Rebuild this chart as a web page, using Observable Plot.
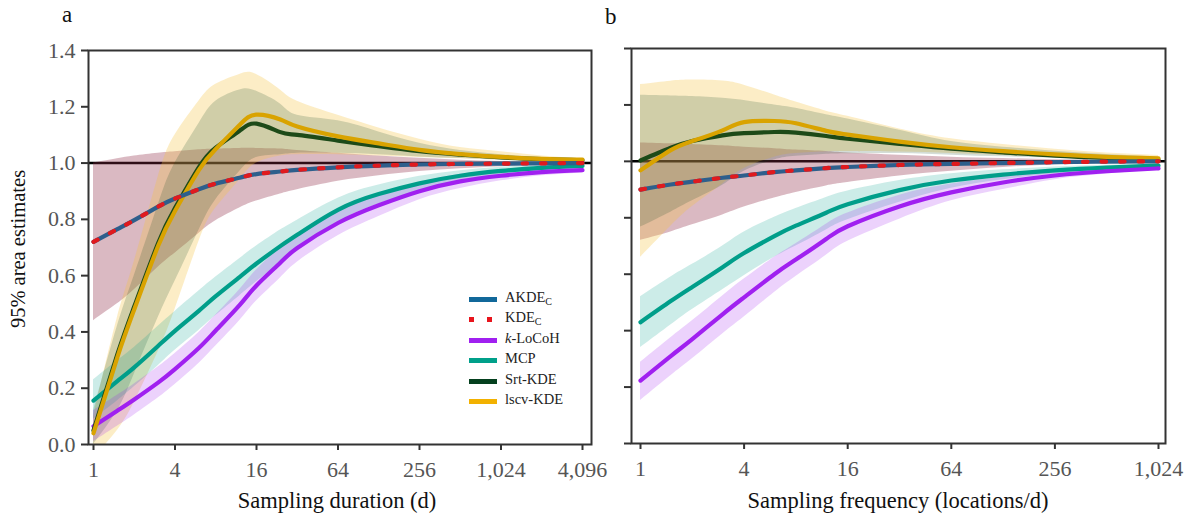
<!DOCTYPE html>
<html><head><meta charset="utf-8">
<script src="https://cdn.jsdelivr.net/npm/d3@7"></script>
<script src="https://cdn.jsdelivr.net/npm/@observablehq/plot@0.6"></script>
<style>
body{margin:0;background:#fff;}
#wrap{position:relative;width:1187px;height:516px;color:#111;overflow:hidden}
#wrap, #wrap *{font-family:"Liberation Serif","Times New Roman",serif;}
.abs{position:absolute;white-space:nowrap;line-height:1}
.leg{position:absolute;left:469px;font-size:14.5px;color:#222}
.sw{position:absolute;left:0;width:28px;height:5px}
.lt{position:absolute;left:36px;top:-8px;white-space:nowrap;font-size:14.5px}
.lt sub{font-size:10px;vertical-align:-3px;line-height:0}
</style></head><body>
<div id="wrap">
  <div id="pa" class="abs" style="left:0;top:0"></div>
  <div id="pb" class="abs" style="left:600px;top:0"></div>
  <div class="abs" style="left:62px;top:3px;font-size:23px">a</div>
  <div class="abs" style="left:605px;top:5px;font-size:23px">b</div>
  <div class="abs" style="left:18px;top:249px;font-size:20.5px;transform:translate(-50%,-50%) rotate(-90deg)">95% area estimates</div>
  <div class="abs" style="left:337px;top:490px;font-size:22.5px;transform:translateX(-50%)">Sampling duration (d)</div>
  <div class="abs" style="left:898px;top:490px;font-size:22.5px;transform:translateX(-50%)">Sampling frequency (locations/d)</div>
  <div id="legend"></div>
</div>
<script>
// ---------- Panel a: sampling duration (d) ----------
const durA = [1, 1.5, 2, 3, 4, 6, 8, 12, 16, 24, 32, 64, 128, 256, 512, 1024, 2048, 4096];
const akdeA   = [0.72, 0.765, 0.797, 0.845, 0.874, 0.907, 0.927, 0.948, 0.961, 0.970, 0.976, 0.985, 0.991, 0.995, 0.997, 0.998, 0.999, 1.0];
const akdeALo = [0.44, 0.50, 0.55, 0.63, 0.68, 0.75, 0.795, 0.84, 0.865, 0.89, 0.905, 0.935, 0.955, 0.97, 0.98, 0.987, 0.993, 0.996];
const akdeAHi = [1.0, 1.015, 1.025, 1.035, 1.04, 1.047, 1.05, 1.052, 1.052, 1.05, 1.045, 1.035, 1.025, 1.017, 1.01, 1.006, 1.003, 1.002];
const srtA    = [0.05, 0.32, 0.49, 0.715, 0.84, 0.985, 1.055, 1.115, 1.14, 1.11, 1.10, 1.08, 1.06, 1.042, 1.03, 1.02, 1.014, 1.01];
const srtALo  = [0.0, 0.12, 0.25, 0.45, 0.58, 0.76, 0.87, 0.97, 1.02, 1.03, 1.035, 1.035, 1.03, 1.022, 1.016, 1.011, 1.008, 1.005];
const srtAHi  = [0.12, 0.42, 0.60, 0.85, 1.0, 1.14, 1.22, 1.26, 1.255, 1.21, 1.17, 1.15, 1.11, 1.07, 1.045, 1.03, 1.02, 1.012];
const lscvA   = [0.04, 0.31, 0.48, 0.705, 0.83, 0.975, 1.05, 1.135, 1.172, 1.155, 1.13, 1.095, 1.07, 1.047, 1.032, 1.022, 1.015, 1.012];
const lscvALo = [-0.05, 0.05, 0.15, 0.33, 0.48, 0.72, 0.84, 0.94, 1.0, 1.025, 1.03, 1.03, 1.025, 1.02, 1.015, 1.01, 1.007, 1.005];
const lscvAHi = [0.1, 0.45, 0.65, 0.95, 1.1, 1.22, 1.28, 1.315, 1.315, 1.26, 1.22, 1.17, 1.125, 1.085, 1.055, 1.04, 1.025, 1.015];
const mcpA    = [0.156, 0.225, 0.274, 0.35, 0.404, 0.475, 0.527, 0.595, 0.643, 0.705, 0.745, 0.834, 0.89, 0.928, 0.955, 0.972, 0.983, 0.99];
const mcpALo  = [0.09, 0.155, 0.205, 0.28, 0.335, 0.405, 0.458, 0.528, 0.578, 0.645, 0.69, 0.79, 0.855, 0.90, 0.935, 0.958, 0.973, 0.983];
const mcpAHi  = [0.23, 0.298, 0.345, 0.42, 0.473, 0.545, 0.595, 0.66, 0.705, 0.762, 0.797, 0.875, 0.922, 0.953, 0.973, 0.985, 0.992, 0.997];
const lkA     = [0.065, 0.12, 0.16, 0.22, 0.268, 0.343, 0.405, 0.495, 0.565, 0.646, 0.698, 0.787, 0.85, 0.90, 0.935, 0.955, 0.968, 0.975];
const lkALo   = [0.01, 0.065, 0.105, 0.165, 0.213, 0.288, 0.35, 0.44, 0.51, 0.592, 0.648, 0.742, 0.81, 0.87, 0.91, 0.937, 0.955, 0.965];
const lkAHi   = [0.12, 0.175, 0.215, 0.275, 0.323, 0.398, 0.46, 0.55, 0.62, 0.70, 0.748, 0.832, 0.89, 0.93, 0.96, 0.973, 0.98, 0.985];

// ---------- Panel b: sampling frequency (locations/d) ----------
const freqB = [1, 1.5, 2, 3, 4, 6, 8, 12, 16, 32, 64, 128, 256, 512, 1024];
const akdeB   = [0.90, 0.918, 0.928, 0.942, 0.95, 0.962, 0.968, 0.976, 0.98, 0.987, 0.991, 0.994, 0.997, 0.999, 1.0];
const akdeBLo = [0.72, 0.75, 0.775, 0.81, 0.838, 0.87, 0.89, 0.913, 0.925, 0.948, 0.965, 0.978, 0.988, 0.994, 0.997];
const akdeBHi = [1.065, 1.062, 1.06, 1.055, 1.05, 1.045, 1.04, 1.035, 1.03, 1.022, 1.015, 1.01, 1.006, 1.003, 1.002];
const srtB    = [1.003, 1.048, 1.072, 1.092, 1.10, 1.104, 1.102, 1.09, 1.08, 1.062, 1.045, 1.032, 1.02, 1.012, 1.006];
const srtBLo  = [0.767, 0.82, 0.86, 0.915, 0.965, 1.005, 1.018, 1.025, 1.027, 1.028, 1.022, 1.016, 1.012, 1.008, 1.005];
const srtBHi  = [1.234, 1.232, 1.23, 1.224, 1.216, 1.2, 1.188, 1.165, 1.15, 1.11, 1.07, 1.05, 1.036, 1.024, 1.015];
const lscvB   = [0.968, 1.04, 1.072, 1.11, 1.139, 1.143, 1.135, 1.108, 1.095, 1.07, 1.05, 1.036, 1.025, 1.016, 1.011];
const lscvBLo = [0.66, 0.77, 0.84, 0.92, 0.975, 1.015, 1.028, 1.034, 1.035, 1.033, 1.028, 1.021, 1.015, 1.01, 1.006];
const lscvBHi = [1.272, 1.284, 1.288, 1.285, 1.27, 1.235, 1.21, 1.178, 1.16, 1.115, 1.08, 1.06, 1.043, 1.03, 1.021];
const mcpB    = [0.43, 0.505, 0.555, 0.625, 0.675, 0.735, 0.772, 0.818, 0.848, 0.898, 0.932, 0.953, 0.968, 0.978, 0.985];
const mcpBLo  = [0.34, 0.42, 0.475, 0.545, 0.595, 0.66, 0.70, 0.757, 0.793, 0.855, 0.905, 0.935, 0.955, 0.968, 0.978];
const mcpBHi  = [0.52, 0.59, 0.635, 0.70, 0.75, 0.802, 0.833, 0.872, 0.895, 0.932, 0.956, 0.97, 0.98, 0.986, 0.99];
const lkB     = [0.223, 0.31, 0.37, 0.458, 0.518, 0.600, 0.652, 0.725, 0.77, 0.84, 0.89, 0.925, 0.95, 0.965, 0.975];
const lkBLo   = [0.152, 0.24, 0.30, 0.388, 0.448, 0.535, 0.592, 0.667, 0.717, 0.795, 0.86, 0.90, 0.935, 0.955, 0.97];
const lkBHi   = [0.288, 0.375, 0.435, 0.523, 0.583, 0.66, 0.708, 0.777, 0.817, 0.88, 0.92, 0.945, 0.965, 0.975, 0.985];

// ---------- ticks & legend ----------
const xTicksA = [1, 4, 16, 64, 256, 1024, 4096];
const xTicksB = [1, 4, 16, 64, 256, 1024];
const yTicks = [0, 0.2, 0.4, 0.6, 0.8, 1.0, 1.2, 1.4];
const legendNames = ["AKDE<sub>C</sub>", "KDE<sub>C</sub>", "<i>k</i>-LoCoH", "MCP", "Srt-KDE", "lscv-KDE"];
const legendColors = ["#11689a", "#e8141c", "#a020f0", "#00a08a", "#05401e", "#f2b100"];

const col = {akde:"#2e5f8c", kde:"#e01a1e", lk:"#a020f0", mcp:"#009e8a", srt:"#1d4a18", lscv:"#d9a300"};
const band = {akde:["#8e2a45",0.33], lscv:["#f5c342",0.3], srt:["#0d4020",0.18], mcp:["#009e8a",0.2], lk:["#a020f0",0.2]};
const FONT = '"Liberation Serif", "Times New Roman", serif';

function rows(xs, mid, lo, hi){ return xs.map((x,i)=>({x, y:mid[i], lo:lo[i], hi:hi[i]})); }

function panel(xs, S, cfg){
  const crv = "natural";
  const marks = [ Plot.ruleY([1], {stroke:"#000", strokeWidth:2.5}) ];
  for (const k of ["akde","lscv","srt","mcp","lk"]) {
    marks.push(Plot.areaY(S[k], {x:"x", y1:"lo", y2:"hi", fill:band[k][0], fillOpacity:band[k][1], curve:crv, clip:true}));
  }
  for (const k of ["mcp","lk","srt","lscv","akde"]) {
    marks.push(Plot.line(S[k], {x:"x", y:"y", stroke:col[k], strokeWidth:4.2, curve:crv, clip:true}));
  }
  marks.push(Plot.line(S.akde, {x:"x", y:"y", stroke:col.kde, strokeWidth:4.2, strokeDasharray:"4.5,14", curve:crv, clip:true}));
  marks.push(Plot.frame({stroke:"#333", strokeWidth:2}));
  marks.push(Plot.axisX({ticks:cfg.xticks, tickFormat:()=>"", tickSize:6, stroke:"#333", strokeWidth:2, label:null}));
  marks.push(Plot.axisY({ticks:yTicks, tickFormat:()=>"", tickSize:7, stroke:"#333", strokeWidth:2, label:null}));
  marks.push(Plot.text(cfg.xticks, {x:d=>d, frameAnchor:"bottom", dy:25, text:d3.format(","), fill:"#555", fontSize:22, fontFamily:FONT, lineAnchor:"middle"}));
  if (cfg.ylabels) marks.push(Plot.text(yTicks, {y:d=>d, frameAnchor:"left", dx:-13, textAnchor:"end", text:d=>d.toFixed(1), fill:"#555", fontSize:22, fontFamily:FONT}));
  return Plot.plot({
    width: cfg.width, height: cfg.height,
    marginLeft: cfg.ml, marginRight: cfg.mr, marginTop: cfg.mt, marginBottom: cfg.mb,
    style: {fontFamily:FONT, background:"transparent", overflow:"visible"},
    x: {type:"log", domain:[xs[0], xs[xs.length-1]], range: cfg.xrange, axis:null},
    y: {domain:[0,1.4], range: cfg.yrange, axis:null},
    marks
  });
}

const SA = {akde:rows(durA,akdeA,akdeALo,akdeAHi), srt:rows(durA,srtA,srtALo,srtAHi), lscv:rows(durA,lscvA,lscvALo,lscvAHi), mcp:rows(durA,mcpA,mcpALo,mcpAHi), lk:rows(durA,lkA,lkALo,lkAHi)};
const SB = {akde:rows(freqB,akdeB,akdeBLo,akdeBHi), srt:rows(freqB,srtB,srtBLo,srtBHi), lscv:rows(freqB,lscvB,lscvBLo,lscvBHi), mcp:rows(freqB,mcpB,mcpBLo,mcpBHi), lk:rows(freqB,lkB,lkBLo,lkBHi)};

document.getElementById("pa").append(panel(durA, SA, {width:600, height:480, ml:88, mr:9, mt:50, mb:36, xrange:[93,582], yrange:[444,50], xticks:xTicksA, ylabels:true}));
document.getElementById("pb").append(panel(freqB, SB, {width:587, height:479, ml:31, mr:22, mt:48, mb:36, xrange:[40,558], yrange:[443,48], xticks:xTicksB, ylabels:false}));

// legend
const legTop = [299, 319.5, 340, 360.5, 381, 401];
const leg = document.getElementById("legend");
legendNames.forEach((n,i)=>{
  const d = document.createElement("div");
  d.className = "leg"; d.style.top = (legTop[i]-2.5)+"px";
  let sw;
  if (i===1) {
    sw = `<div class="sw" style="background:none"><span style="position:absolute;left:0;top:0;width:5px;height:5px;background:${legendColors[i]}"></span><span style="position:absolute;left:18px;top:0;width:5px;height:5px;background:${legendColors[i]}"></span></div>`;
  } else {
    sw = `<div class="sw" style="background:${legendColors[i]}"></div>`;
  }
  d.innerHTML = sw + `<div class="lt">${n}</div>`;
  leg.append(d);
});
</script>
</body></html>
